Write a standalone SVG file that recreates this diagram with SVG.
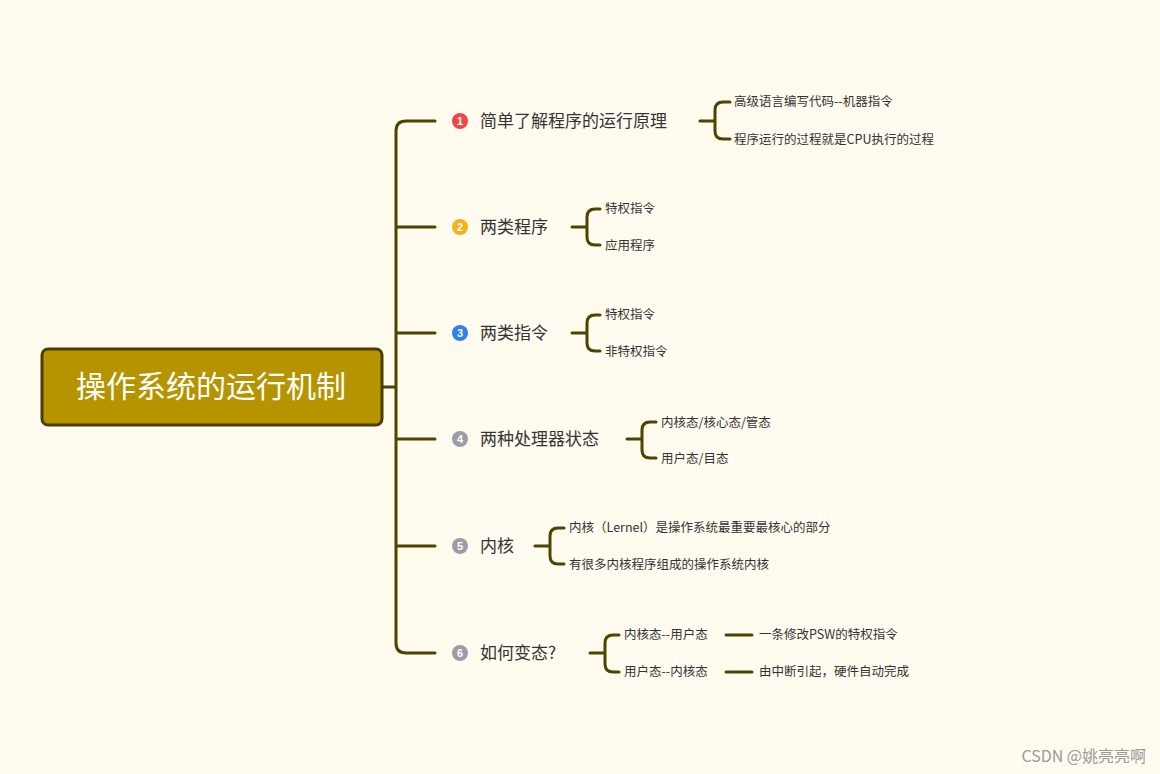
<svg xmlns="http://www.w3.org/2000/svg" width="1160" height="774" viewBox="0 0 1160 774">
<style>
.l{fill:none;stroke:#4f4300;stroke-width:3;stroke-linecap:round;stroke-linejoin:round}
.t{font-family:"Noto Sans CJK SC","Liberation Sans",sans-serif;fill:#333}
.m{font-size:17px}
.s{font-size:12.5px}
.n{font-family:"Liberation Sans",sans-serif;font-size:11px;font-weight:bold;fill:#fff;text-anchor:middle}
</style>
<rect width="1160" height="774" fill="#fffbef"/>
<g id="connectors">
<path class="l" d="M382 387H396M435 121H406Q396 121 396 131V643Q396 653 406 653H435M396 227H435M396 333H435M396 439H435M396 546H435"/>
<path class="l" d="M700 121H715M730 102H723Q715 102 715 110V131Q715 139 723 139H730"/>
<path class="l" d="M572 227H587M600 209H595Q587 209 587 217V237Q587 245 595 245H600"/>
<path class="l" d="M572 333H587M600 315H595Q587 315 587 323V343Q587 351 595 351H600"/>
<path class="l" d="M627 439H642M656 422H650Q642 422 642 430V450Q642 458 650 458H656"/>
<path class="l" d="M535 546H550M564 528H558Q550 528 550 536V556Q550 564 558 564H564"/>
<path class="l" d="M590 653H605M619 635H613Q605 635 605 643V664Q605 672 613 672H619"/>
<path class="l" d="M726 635H752M726 672H752"/>
</g>
<g id="root">
<rect x="42" y="349" width="340" height="76" rx="6" fill="#b59400" stroke="#4a3e00" stroke-width="3"/>
<text x="211" y="397" text-anchor="middle" font-family="Noto Sans CJK SC,sans-serif" font-size="30" fill="#fff">操作系统的运行机制</text>
</g>
<g id="n1"><circle cx="460" cy="121" r="8" fill="#f04646"/><text class="n" x="460" y="125">1</text><text class="t m" x="480" y="127">简单了解程序的运行原理</text></g>
<g id="n2"><circle cx="460" cy="227" r="8" fill="#f7b21a"/><text class="n" x="460" y="231">2</text><text class="t m" x="480" y="233">两类程序</text></g>
<g id="n3"><circle cx="460" cy="333" r="8" fill="#2f7ff0"/><text class="n" x="460" y="337">3</text><text class="t m" x="480" y="339">两类指令</text></g>
<g id="n4"><circle cx="460" cy="439" r="8" fill="#9c9ca6"/><text class="n" x="460" y="443">4</text><text class="t m" x="480" y="445">两种处理器状态</text></g>
<g id="n5"><circle cx="460" cy="546" r="8" fill="#9c9ca6"/><text class="n" x="460" y="550">5</text><text class="t m" x="480" y="552">内核</text></g>
<g id="n6"><circle cx="460" cy="653" r="8" fill="#9c9ca6"/><text class="n" x="460" y="657">6</text><text class="t m" x="480" y="659">如何变态?</text></g>
<g id="leaves" class="t s">
<text x="734" y="106">高级语言编写代码--机器指令</text>
<text x="734" y="144">程序运行的过程就是CPU执行的过程</text>
<text x="605" y="213">特权指令</text>
<text x="605" y="250">应用程序</text>
<text x="605" y="319">特权指令</text>
<text x="605" y="356">非特权指令</text>
<text x="661" y="427">内核态/核心态/管态</text>
<text x="661" y="463">用户态/目态</text>
<text x="569" y="532">内核（Lernel）是操作系统最重要最核心的部分</text>
<text x="569" y="569">有很多内核程序组成的操作系统内核</text>
<text x="624" y="639">内核态--用户态</text>
<text x="624" y="676">用户态--内核态</text>
<text x="759" y="639">一条修改PSW的特权指令</text>
<text x="759" y="676">由中断引起，硬件自动完成</text>
</g>
<text x="1146" y="762" text-anchor="end" font-family="Noto Sans CJK SC,sans-serif" font-size="16" fill="#9a9a9a">CSDN @姚亮亮啊</text>
</svg>
